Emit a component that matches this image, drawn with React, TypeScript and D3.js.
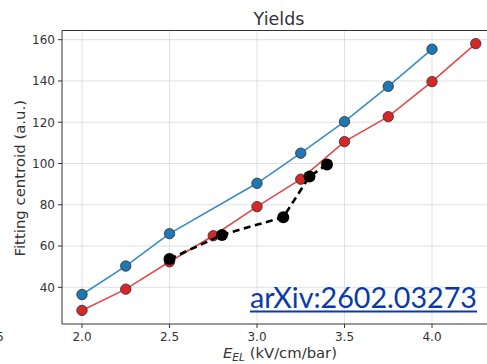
import React from "react";
import * as d3 from "d3";

// Light yield centroids versus reduced EL field
const fieldBlue = [2.0, 2.25, 2.5, 3.0, 3.25, 3.5, 3.75, 4.0];
const centroidBlue = [36.5, 50.3, 66.0, 90.4, 105.0, 120.3, 137.4, 155.4];
const fieldRed = [2.0, 2.25, 2.5, 2.75, 3.0, 3.25, 3.5, 3.75, 4.0, 4.25];
const centroidRed = [28.8, 39.1, 52.4, 65.0, 79.1, 92.4, 110.6, 122.7, 139.7, 158.1];
const fieldBlack = [2.5, 2.8, 3.15, 3.3, 3.4];
const centroidBlack = [53.7, 65.4, 74.0, 93.7, 99.5];

const xTicks = [2.0, 2.5, 3.0, 3.5, 4.0];
const yTicks = [40, 60, 80, 100, 120, 140, 160];

const W = 487;
const H = 364;
const left = 62;
const top = 30.5;
const bottom = 324;

const x = d3.scaleLinear().domain([2, 4]).range([82, 432]);
const y = d3.scaleLinear().domain([40, 160]).range([287.3, 39.7]);

const zip = (xs: number[], ys: number[]) => xs.map((v, i) => [v, ys[i]] as [number, number]);
const line = d3
  .line<[number, number]>()
  .x((d) => x(d[0]))
  .y((d) => y(d[1]));

const tickFont = "DejaVu Sans, sans-serif";

export default function App() {
  const blue = zip(fieldBlue, centroidBlue);
  const red = zip(fieldRed, centroidRed);
  const black = zip(fieldBlack, centroidBlack);
  return (
    <svg
      width={W}
      height={H}
      style={{ position: "absolute", left: 0, top: 0, background: "#fff" }}
    >
      <rect width={W} height={H} fill="#fff" />
      {/* grid */}
      {xTicks.map((t) => (
        <line key={"gx" + t} x1={x(t)} x2={x(t)} y1={top} y2={bottom} stroke="#dcdcdc" strokeWidth={0.9} />
      ))}
      {yTicks.map((t) => (
        <line key={"gy" + t} x1={left} x2={W} y1={y(t)} y2={y(t)} stroke="#dcdcdc" strokeWidth={0.9} />
      ))}
      {/* series */}
      <path d={line(blue) || ""} fill="none" stroke="#3b8bc6" strokeWidth={1.6} />
      {blue.map((d, i) => (
        <circle key={"b" + i} cx={x(d[0])} cy={y(d[1])} r={5.2} fill="#1f77b4" stroke="#2b2b2b" strokeWidth={0.8} />
      ))}
      <path d={line(red) || ""} fill="none" stroke="#e04a4a" strokeWidth={1.6} />
      {red.map((d, i) => (
        <circle key={"r" + i} cx={x(d[0])} cy={y(d[1])} r={5.2} fill="#d62728" stroke="#2b2b2b" strokeWidth={0.8} />
      ))}
      <path d={line(black) || ""} fill="none" stroke="#000" strokeWidth={2.6} strokeDasharray="7,4.5" />
      {black.map((d, i) => (
        <circle key={"k" + i} cx={x(d[0])} cy={y(d[1])} r={6} fill="#000" />
      ))}
      {/* spines */}
      <line x1={left} x2={left} y1={top} y2={bottom} stroke="#333" strokeWidth={1} />
      <line x1={left} x2={W} y1={top} y2={top} stroke="#333" strokeWidth={1} />
      <line x1={left} x2={W} y1={bottom} y2={bottom} stroke="#333" strokeWidth={1} />
      {/* ticks */}
      {xTicks.map((t) => (
        <g key={"tx" + t}>
          <line x1={x(t)} x2={x(t)} y1={bottom} y2={bottom + 4} stroke="#333" />
          <text x={x(t)} y={bottom + 17} textAnchor="middle" fontFamily={tickFont} fontSize={12} fill="#333">
            {t.toFixed(1)}
          </text>
        </g>
      ))}
      {yTicks.map((t) => (
        <g key={"ty" + t}>
          <line x1={left - 4} x2={left} y1={y(t)} y2={y(t)} stroke="#333" />
          <text x={left - 7} y={y(t) + 4.3} textAnchor="end" fontFamily={tickFont} fontSize={12} fill="#333">
            {t}
          </text>
        </g>
      ))}
      <text x={4} y={bottom + 17} textAnchor="end" fontFamily={tickFont} fontSize={12} fill="#333">
        1.5
      </text>
      {/* labels */}
      <text x={279} y={25} textAnchor="middle" fontFamily={tickFont} fontSize={17.5} fill="#333">
        Yields
      </text>
      <text
        transform={`translate(24.5, ${(top + bottom) / 2 + 1}) rotate(-90)`}
        textAnchor="middle"
        fontFamily={tickFont}
        fontSize={14.9}
        fill="#333"
      >
        Fitting centroid (a.u.)
      </text>
      <text x={223} y={358} fontFamily={tickFont} fontSize={14.8} fill="#333">
        <tspan fontStyle="italic">E</tspan>
        <tspan fontStyle="italic" fontSize={10.6} dy={3}>EL</tspan>
        <tspan dy={-3}> (kV/cm/bar)</tspan>
      </text>
      {/* reference tag */}
      <text
        x={250}
        y={307.5}
        fontFamily="Lato, 'Open Sans', sans-serif"
        fontSize={29}
        fill="#0a3aa6"
        textLength={227}
        lengthAdjust="spacingAndGlyphs"
      >
        arXiv:2602.03273
      </text>
      <line x1={250} x2={477} y1={311.5} y2={311.5} stroke="#0a3aa6" strokeWidth={1.8} />
    </svg>
  );
}
